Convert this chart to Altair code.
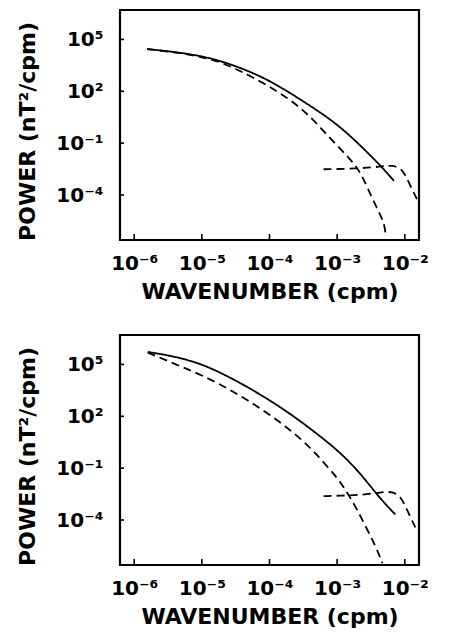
import altair as alt
import pandas as pd
import numpy as np

# ---- data (log10 of wavenumber, log10 of power) ----
# top panel
top_solid_lx = [-5.81, -5.31, -4.86, -4.42, -3.98, -3.49, -3.09, -2.80, -2.50, -2.31, -2.16]
top_solid_ly = [4.44, 4.24, 3.93, 3.36, 2.60, 1.40, 0.36, -0.59, -1.74, -2.51, -3.18]
top_dash1_lx = [-5.81, -5.31, -4.86, -4.57, -4.27, -3.83, -3.44, -3.09, -2.80, -2.65, -2.50, -2.38, -2.30, -2.28]
top_dash1_ly = [4.44, 4.22, 3.88, 3.43, 2.86, 1.90, 0.75, -0.79, -1.94, -2.70, -4.04, -5.00, -5.67, -6.40]
top_dash2_lx = [-3.20, -2.70, -2.35, -2.18, -2.03, -1.94, -1.82]
top_dash2_ly = [-2.51, -2.47, -2.36, -2.26, -2.51, -3.28, -4.24]

# bottom panel
bot_solid_lx = [-5.80, -5.48, -5.09, -4.79, -4.45, -4.11, -3.76, -3.42, -3.07, -2.83, -2.63, -2.48, -2.33, -2.14]
bot_solid_ly = [5.72, 5.52, 5.14, 4.65, 3.97, 3.20, 2.33, 1.36, 0.29, -0.58, -1.45, -2.18, -2.90, -3.68]
bot_dash1_lx = [-5.80, -5.58, -5.29, -4.99, -4.65, -4.35, -4.01, -3.71, -3.42, -3.22, -3.02, -2.88, -2.73, -2.58, -2.43, -2.33]
bot_dash1_ly = [5.68, 5.33, 4.84, 4.36, 3.68, 3.00, 2.13, 1.26, 0.29, -0.58, -1.45, -2.23, -3.20, -4.36, -5.52, -6.49]
bot_dash2_lx = [-3.20, -2.88, -2.63, -2.38, -2.19, -2.06, -1.97, -1.84]
bot_dash2_ly = [-2.62, -2.58, -2.54, -2.42, -2.33, -2.62, -3.39, -4.46]

x_ticks = [1e-6, 1e-5, 1e-4, 1e-3, 1e-2]
y_ticks = [1e5, 1e2, 1e-1, 1e-4]

X_DOMAIN = [10 ** -6.21, 10 ** -1.79]
Y_DOMAIN = [10 ** -6.6, 10 ** 6.7]

W, H = 299, 230
FONT = "DejaVu Sans"

SUP = "\u2070\u00b9\u00b2\u00b3\u2074\u2075\u2076\u2077\u2078\u2079"
label_expr = ("'10' + (datum.value < 1 ? '\u207b' : '') + "
              f"substring('{SUP}', abs(round(log(datum.value)/LN10)), abs(round(log(datum.value)/LN10)) + 1)")

X_AXIS = alt.Axis(values=x_ticks, labelExpr=label_expr, ticks=False, domain=False,
                  grid=False, labelPadding=13, titlePadding=8, labelFlush=False)
Y_AXIS = alt.Axis(values=y_ticks, labelExpr=label_expr, ticks=False, domain=False,
                  grid=False, labelPadding=17, titlePadding=16, titleY=121)
X_TITLE = "WAVENUMBER  (cpm)"
Y_TITLE = "POWER  (nT\u00b2/cpm)"


def frame(series):
    rows = []
    for name, style, lx, ly in series:
        for a, b in zip(lx, ly):
            rows.append({"series": name, "style": style, "x": 10 ** a, "y": 10 ** b})
    return pd.DataFrame(rows)


def panel(series):
    df = frame(series)
    xs = alt.Scale(type="log", domain=X_DOMAIN, nice=False)
    ys = alt.Scale(type="log", domain=Y_DOMAIN, nice=False)
    lines = alt.Chart(df).mark_line(color="black", strokeWidth=1.8, clip=True,
                                    interpolate="basis").encode(
        x=alt.X("x:Q", scale=xs, title=X_TITLE, axis=X_AXIS),
        y=alt.Y("y:Q", scale=ys, title=Y_TITLE, axis=Y_AXIS),
        strokeDash=alt.StrokeDash("style:N", scale=alt.Scale(domain=["solid", "dash"],
                                                             range=[[1, 0], [8, 5]]), legend=None),
        detail="series:N",
    )
    xt = alt.Chart(pd.DataFrame({"x": x_ticks})).mark_rule(color="black", strokeWidth=1.6).encode(
        x=alt.X("x:Q", scale=xs, title=X_TITLE, axis=X_AXIS),
        y=alt.value(H),
        y2=alt.value(H - 6),
    )
    yt = alt.Chart(pd.DataFrame({"y": y_ticks})).mark_rule(color="black", strokeWidth=1.6).encode(
        y=alt.Y("y:Q", scale=ys, title=Y_TITLE, axis=Y_AXIS),
        x=alt.value(0),
        x2=alt.value(4),
    )
    return alt.layer(lines, xt, yt).properties(width=W, height=H)


top = panel([
    ("s", "solid", top_solid_lx, top_solid_ly),
    ("d1", "dash", top_dash1_lx, top_dash1_ly),
    ("d2", "dash", top_dash2_lx, top_dash2_ly),
])
bottom = panel([
    ("s", "solid", bot_solid_lx, bot_solid_ly),
    ("d1", "dash", bot_dash1_lx, bot_dash1_ly),
    ("d2", "dash", bot_dash2_lx, bot_dash2_ly),
])

chart = alt.vconcat(top, bottom, spacing=29).properties(
    padding={"left": 7, "top": 0, "right": 5, "bottom": 0},
    background="white",
).configure_view(
    stroke="black", strokeWidth=2.2
).configure_axis(
    labelFont=FONT, labelFontSize=20, labelFontWeight="bold", labelColor="black",
    titleFont=FONT, titleFontSize=22, titleFontWeight="bold", titleColor="black",
)

chart.save("out.html", embed_options={"renderer": "svg", "actions": False})
